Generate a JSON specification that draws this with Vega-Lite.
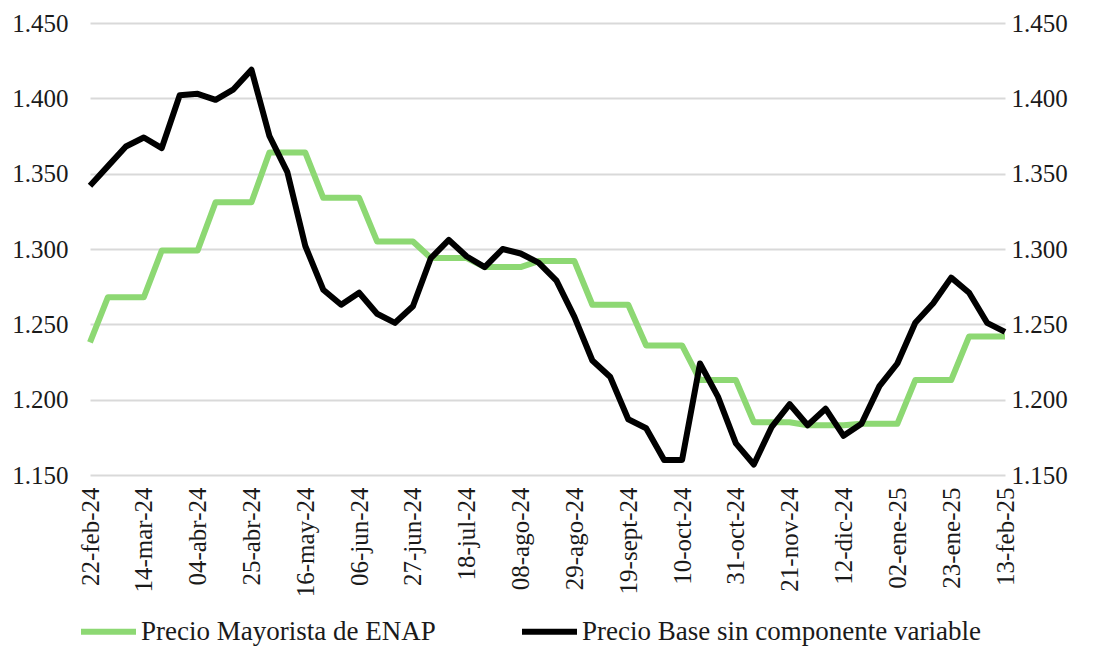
{
  "$schema": "https://vega.github.io/schema/vega-lite/v6.json",
  "width": 915,
  "height": 452,
  "autosize": {"type": "none"},
  "padding": {"left": 90, "top": 23, "right": 89, "bottom": 172},
  "config": {
    "font": "Liberation Serif",
    "view": {"stroke": null},
    "axis": {"labelFont": "Liberation Serif", "labelColor": "#1a1a1a", "labelFontSize": 25, "domain": false, "ticks": false, "title": null}
  },
  "data": {"values": [
    {"fecha": "22-feb-24", "enap": 1238, "base": 1342},
    {"fecha": "29-feb-24", "enap": 1268, "base": 1355},
    {"fecha": "07-mar-24", "enap": 1268, "base": 1368},
    {"fecha": "14-mar-24", "enap": 1268, "base": 1374},
    {"fecha": "21-mar-24", "enap": 1299, "base": 1367},
    {"fecha": "28-mar-24", "enap": 1299, "base": 1402},
    {"fecha": "04-abr-24", "enap": 1299, "base": 1403},
    {"fecha": "11-abr-24", "enap": 1331, "base": 1399},
    {"fecha": "18-abr-24", "enap": 1331, "base": 1406},
    {"fecha": "25-abr-24", "enap": 1331, "base": 1419},
    {"fecha": "02-may-24", "enap": 1364, "base": 1375},
    {"fecha": "09-may-24", "enap": 1364, "base": 1351},
    {"fecha": "16-may-24", "enap": 1364, "base": 1302},
    {"fecha": "23-may-24", "enap": 1334, "base": 1273},
    {"fecha": "30-may-24", "enap": 1334, "base": 1263},
    {"fecha": "06-jun-24", "enap": 1334, "base": 1271},
    {"fecha": "13-jun-24", "enap": 1305, "base": 1257},
    {"fecha": "20-jun-24", "enap": 1305, "base": 1251},
    {"fecha": "27-jun-24", "enap": 1305, "base": 1262},
    {"fecha": "04-jul-24", "enap": 1294, "base": 1294},
    {"fecha": "11-jul-24", "enap": 1294, "base": 1306},
    {"fecha": "18-jul-24", "enap": 1294, "base": 1295},
    {"fecha": "25-jul-24", "enap": 1288, "base": 1288},
    {"fecha": "01-ago-24", "enap": 1288, "base": 1300},
    {"fecha": "08-ago-24", "enap": 1288, "base": 1297},
    {"fecha": "15-ago-24", "enap": 1292, "base": 1291},
    {"fecha": "22-ago-24", "enap": 1292, "base": 1279},
    {"fecha": "29-ago-24", "enap": 1292, "base": 1255},
    {"fecha": "05-sept-24", "enap": 1263, "base": 1226},
    {"fecha": "12-sept-24", "enap": 1263, "base": 1215},
    {"fecha": "19-sept-24", "enap": 1263, "base": 1187},
    {"fecha": "26-sept-24", "enap": 1236, "base": 1181},
    {"fecha": "03-oct-24", "enap": 1236, "base": 1160},
    {"fecha": "10-oct-24", "enap": 1236, "base": 1160},
    {"fecha": "17-oct-24", "enap": 1213, "base": 1224},
    {"fecha": "24-oct-24", "enap": 1213, "base": 1202},
    {"fecha": "31-oct-24", "enap": 1213, "base": 1171},
    {"fecha": "07-nov-24", "enap": 1185, "base": 1157},
    {"fecha": "14-nov-24", "enap": 1185, "base": 1182},
    {"fecha": "21-nov-24", "enap": 1185, "base": 1197},
    {"fecha": "28-nov-24", "enap": 1183, "base": 1183},
    {"fecha": "05-dic-24", "enap": 1183, "base": 1194},
    {"fecha": "12-dic-24", "enap": 1183, "base": 1176},
    {"fecha": "19-dic-24", "enap": 1184, "base": 1184},
    {"fecha": "26-dic-24", "enap": 1184, "base": 1209},
    {"fecha": "02-ene-25", "enap": 1184, "base": 1224},
    {"fecha": "09-ene-25", "enap": 1213, "base": 1251},
    {"fecha": "16-ene-25", "enap": 1213, "base": 1264},
    {"fecha": "23-ene-25", "enap": 1213, "base": 1281},
    {"fecha": "30-ene-25", "enap": 1242, "base": 1271},
    {"fecha": "06-feb-25", "enap": 1242, "base": 1251},
    {"fecha": "13-feb-25", "enap": 1242, "base": 1245}
  ]},
  "encoding": {
    "x": {
      "field": "fecha", "type": "ordinal", "sort": null,
      "scale": {"type": "point", "padding": 0},
      "axis": {
        "values": ["22-feb-24","14-mar-24","04-abr-24","25-abr-24","16-may-24","06-jun-24","27-jun-24","18-jul-24","08-ago-24","29-ago-24","19-sept-24","10-oct-24","31-oct-24","21-nov-24","12-dic-24","02-ene-25","23-ene-25","13-feb-25"],
        "labelAngle": 270, "labelPadding": 12, "grid": false
      }
    }
  },
  "layer": [
    {
      "mark": {"type": "line", "strokeWidth": 6, "strokeJoin": "round"},
      "encoding": {
        "y": {
          "field": "enap", "type": "quantitative",
          "scale": {"domain": [1150, 1450], "nice": false, "zero": false},
          "axis": {"orient": "left", "values": [1150,1200,1250,1300,1350,1400,1450], "grid": true, "gridColor": "#d9d9d9", "gridWidth": 2, "labelPadding": 22,
            "labelExpr": "replace(format(datum.value, ',.0f'), ',', '.')"}
        },
        "color": {
          "datum": "Precio Mayorista de ENAP",
          "scale": {"domain": ["Precio Mayorista de ENAP", "Precio Base sin componente variable"], "range": ["#8dd873", "#000000"]},
          "legend": {"title": null, "orient": "none", "legendX": -12, "legendY": 578, "direction": "horizontal", "columns": 2,
            "symbolType": "stroke", "symbolSize": 3025, "symbolStrokeWidth": 6, "labelFontSize": 27, "labelColor": "#1a1a1a", "labelOffset": 2, "columnPadding": 74, "labelLimit": 500}
        }
      }
    },
    {
      "mark": {"type": "line", "strokeWidth": 6, "strokeJoin": "round"},
      "encoding": {
        "y": {
          "field": "base", "type": "quantitative",
          "scale": {"domain": [1150, 1450], "nice": false, "zero": false},
          "axis": {"orient": "right", "values": [1150,1200,1250,1300,1350,1400,1450], "grid": false, "labelPadding": 6,
            "labelExpr": "replace(format(datum.value, ',.0f'), ',', '.')"}
        },
        "color": {"datum": "Precio Base sin componente variable"}
      }
    }
  ],
  "resolve": {"scale": {"y": "independent"}}
}
